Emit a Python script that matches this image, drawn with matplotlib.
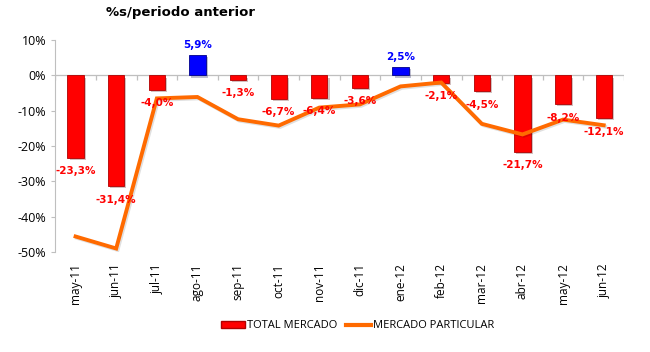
import matplotlib.pyplot as plt
import matplotlib.patheffects as pe
import numpy as np
from matplotlib.patches import Patch
from matplotlib.lines import Line2D

meses = ["may-11", "jun-11", "jul-11", "ago-11", "sep-11", "oct-11", "nov-11",
         "dic-11", "ene-12", "feb-12", "mar-12", "abr-12", "may-12", "jun-12"]
total_mercado = [-23.3, -31.4, -4.0, 5.9, -1.3, -6.7, -6.4,
                 -3.6, 2.5, -2.1, -4.5, -21.7, -8.2, -12.1]
mercado_particular = [-45.6, -49.0, -6.5, -6.1, -12.4, -14.2, -9.1,
                      -8.2, -3.1, -2.0, -13.7, -16.7, -12.5, -14.1]
yticks = [10, 0, -10, -20, -30, -40, -50]


def main() -> None:
    fig = plt.figure(figsize=(6.5, 3.52), dpi=100)
    ax = fig.add_axes([0.085, 0.284, 0.875, 0.602])
    x = np.arange(len(meses))

    colors = ["#0000FF" if v > 0 else "#FF0000" for v in total_mercado]
    edges = ["#00008B" if v > 0 else "#B00000" for v in total_mercado]
    ax.bar(x, total_mercado, width=0.4, color=colors, edgecolor=edges, linewidth=0.6,
           zorder=2, path_effects=[pe.SimplePatchShadow(offset=(1.5, -1.5), alpha=0.25), pe.Normal()])

    ax.plot(x, mercado_particular, color="#FF6A00", linewidth=2.8, zorder=3,
            solid_joinstyle="miter",
            path_effects=[pe.SimpleLineShadow(offset=(1, -1), alpha=0.12), pe.Normal()])

    for xi, v in zip(x, total_mercado):
        txt = f"{v:.1f}%".replace(".", ",")
        if v > 0:
            ax.annotate(txt, (xi, v), xytext=(0, 3), textcoords="offset points",
                        ha="center", va="bottom", color="#0000FF", fontsize=7.5,
                        fontweight="bold", zorder=4)
        else:
            ax.annotate(txt, (xi, v), xytext=(0, -6), textcoords="offset points",
                        ha="center", va="top", color="#FF0000", fontsize=7.5,
                        fontweight="bold", zorder=4)

    ax.axhline(0, color="#BFBFBF", linewidth=0.9, zorder=1)
    ax.vlines(np.arange(len(meses) + 1) - 0.5, -1.4, 0, color="#BFBFBF", linewidth=0.9, zorder=1)

    ax.set_xlim(-0.5, len(meses) - 0.5)
    ax.set_ylim(-50, 10)
    ax.set_yticks(yticks)
    ax.set_yticklabels([f"{t}%" for t in yticks], fontsize=9, family="Open Sans")
    ax.set_xticks(x)
    ax.set_xticklabels(meses, rotation=90, fontsize=8.5, family="Open Sans")
    ax.tick_params(axis="x", length=0, pad=8)
    ax.tick_params(axis="y", length=3, color="#BFBFBF")
    for s in ["top", "right", "bottom"]:
        ax.spines[s].set_visible(False)
    ax.spines["left"].set_color("#BFBFBF")

    fig.text(0.278, 0.965, "%s/periodo anterior", ha="center", va="center",
             fontsize=9.5, fontweight="bold")

    handles = [Patch(facecolor="#FF0000", edgecolor="#B00000"),
               Line2D([0], [0], color="#FF6A00", linewidth=3)]
    fig.legend(handles, ["TOTAL MERCADO", "MERCADO PARTICULAR"], loc="center",
               bbox_to_anchor=(0.55, 0.074), ncol=2, frameon=False,
               prop={"family": "Open Sans", "size": 8}, handlelength=2.2,
               handletextpad=0.2, columnspacing=0.8)

    fig.savefig("out.png", dpi=100)


if __name__ == "__main__":
    main()
